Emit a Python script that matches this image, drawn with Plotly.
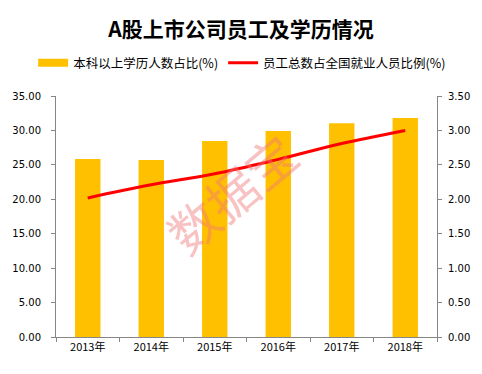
import plotly.graph_objects as go

years = ["2013年", "2014年", "2015年", "2016年", "2017年", "2018年"]
degree_share = [25.85, 25.7, 28.45, 29.9, 31.05, 31.8]
employee_ratio = [2.02, 2.21, 2.37, 2.58, 2.81, 3.00]
left_ticks = [0, 5, 10, 15, 20, 25, 30, 35]
right_ticks = [0, 0.5, 1.0, 1.5, 2.0, 2.5, 3.0, 3.5]

font_cn = "Noto Sans CJK SC, DejaVu Sans, sans-serif"
bar_color = "#FFC000"

fig = go.Figure()
fig.add_trace(go.Bar(
    x=years, y=degree_share, name="本科以上学历人数占比(%)",
    marker=dict(color=bar_color, line=dict(width=0)), width=0.4, yaxis="y",
    showlegend=False,
))
# legend entry for the bars, drawn as a wide swatch like the original
fig.add_trace(go.Scatter(
    x=[None], y=[None], name="本科以上学历人数占比(%)", mode="lines",
    line=dict(color=bar_color, width=8), hoverinfo="skip",
))
fig.add_trace(go.Scatter(
    x=years, y=employee_ratio, name="员工总数占全国就业人员比例(%)",
    mode="lines", line=dict(color="#FF0000", width=3, shape="spline"), yaxis="y2",
))

axis_common = dict(showgrid=False, zeroline=False, showline=True, linecolor="#868686",
                   linewidth=1, ticks="outside", ticklen=4, tickcolor="#868686",
                   tickfont=dict(family="DejaVu Sans", size=10, color="#000000"))

fig.update_layout(
    width=482, height=374,
    margin=dict(l=55, r=42, t=96, b=37),
    paper_bgcolor="white", plot_bgcolor="white",
    title=dict(text="<b>A股上市公司员工及学历情况</b>", x=0.5, xanchor="center",
               y=1 - 30 / 374, yanchor="middle",
               font=dict(family=font_cn, size=21, color="#000000")),
    xaxis=dict(**axis_common, tickson="boundaries"),
    yaxis=dict(**axis_common, range=[0, 35], tickvals=left_ticks,
               tickformat=".2f", ticklabelstandoff=8),
    yaxis2=dict(**axis_common, range=[0, 3.5], tickvals=right_ticks,
                tickformat=".2f", overlaying="y", side="right", ticklabelstandoff=4),
    legend=dict(orientation="h", x=-0.06, xanchor="left", y=1 + 33 / 241, yanchor="middle",
                font=dict(family=font_cn, size=12.5, color="#000000"), itemwidth=30),
    showlegend=True,
)
fig.update_xaxes(tickfont=dict(family=font_cn, size=11, color="#000000"))

fig.add_annotation(text="数据宝", xref="paper", yref="paper", x=0.46, y=0.6,
                   showarrow=False, textangle=-40,
                   font=dict(family=font_cn, size=50, color="rgba(240,120,120,0.45)"))

fig.write_html("out.html", config={"displayModeBar": False},
               post_script="document.body.style.margin='0';")
